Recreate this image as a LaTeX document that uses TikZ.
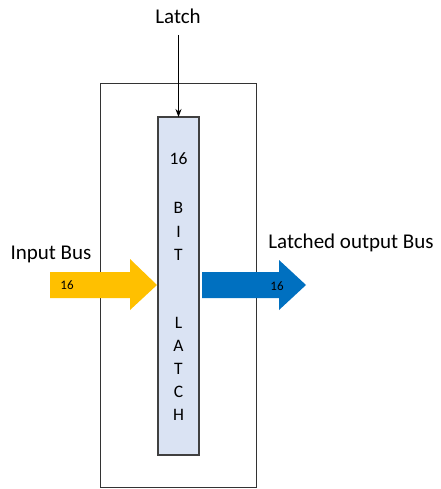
\documentclass[tikz,border=0pt]{standalone}
\usepackage{fontspec}
\setmainfont{Carlito}
\usetikzlibrary{arrows.meta}
\definecolor{busyellow}{HTML}{FFC000}
\definecolor{busblue}{HTML}{0070C0}
\definecolor{latchfill}{HTML}{DAE3F3}
\definecolor{latchedge}{HTML}{404040}
\begin{document}
\begin{tikzpicture}[x=1pt,y=-1pt,
  label/.style={font=\fontsize{21}{25}\selectfont, anchor=base, inner sep=0pt},
  buswidth/.style={font=\fontsize{13}{15}\selectfont, inner sep=0pt},
  letter/.style={font=\fontsize{17.5}{21}\selectfont, inner sep=0pt},
  frame/.style={draw=black!80, line width=0.9pt},
  latchbox/.style={draw=latchedge, fill=latchfill, line width=1.2pt},
  ctrl/.style={draw=black, line width=0.9pt, -{Stealth[length=8pt,width=6pt]}}]
  \useasboundingbox (0,0) rectangle (440,489);

  % enclosing frame
  \draw[frame] (100,83) rectangle (256,487);

  % the 16-bit latch block
  \draw[latchbox] (158,117) rectangle (199,455);
  \coordinate (latchtop) at (178.5,117);
  \foreach \ch/\yy in {16/159, B/208, I/232, T/255, L/323, A/346, T/369, C/392, H/415}
    \node[letter] at (178.5,\yy) {\ch};

  % latch control line
  \node[label] (latchlbl) at (178,24) {Latch};
  \coordinate (latchsrc) at (178.5,35);
  \draw[ctrl] (latchsrc) -- (latchtop);

  % input bus arrow
  \fill[busyellow] (50,272) -- (130,272) -- (130,259) -- (157,285)
    -- (130,310) -- (130,298) -- (50,298) -- cycle;
  \node[buswidth] (inwidth) at (67,285) {16};
  \node[label] (inlbl) at (51,259) {Input Bus};

  % latched output bus arrow
  \fill[busblue] (202,272) -- (279,272) -- (279,260) -- (306,285)
    -- (279,310) -- (279,298) -- (202,298) -- cycle;
  \node[buswidth] (outwidth) at (277,286) {16};
  \node[label] (outlbl) at (351,248) {Latched output Bus};
\end{tikzpicture}
\end{document}
